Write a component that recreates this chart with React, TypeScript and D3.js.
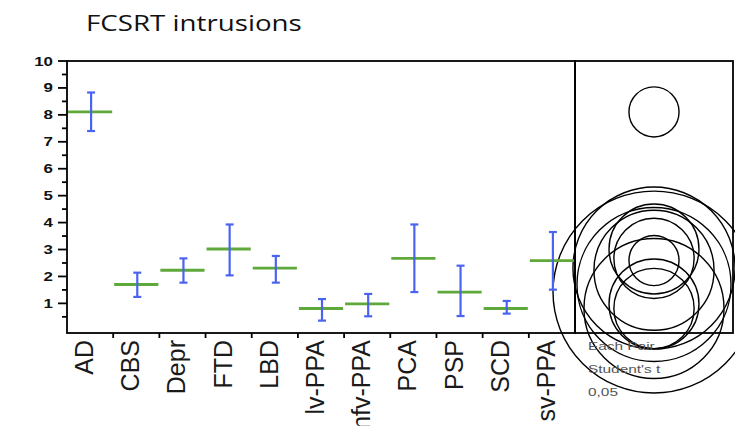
import React from "react";
import * as d3 from "d3";

const categories = ["AD", "CBS", "Depr", "FTD", "LBD", "lv-PPA", "nfv-PPA", "PCA", "PSP", "SCD", "sv-PPA"];
const means = [8.11, 1.7, 2.23, 3.02, 2.31, 0.81, 0.98, 2.67, 1.42, 0.81, 2.59];
const upper = [8.83, 2.14, 2.67, 3.93, 2.76, 1.16, 1.35, 3.93, 2.4, 1.09, 3.65];
const lower = [7.4, 1.24, 1.77, 2.04, 1.77, 0.36, 0.52, 1.42, 0.53, 0.62, 1.51];
const circleRadius = [0.93, 2.86, 2.23, 1.67, 3.01, 2.6, 1.67, 1.49, 3.75, 1.49, 0.93];
const yTicks = [1, 2, 3, 4, 5, 6, 7, 8, 9, 10];
const yMinorTicks = [0.5, 1.5, 2.5, 3.5, 4.5, 5.5, 6.5, 7.5, 8.5, 9.5];
const title = "FCSRT intrusions";
const legendLines = ["Each Pair", "Student's t", "0,05"];

export default function App() {
  const W = 735, H = 426;
  const left = 67, right = 575, top = 61, bottom = 333, panelRight = 733;
  const y = d3.scaleLinear().domain([-0.1, 10]).range([bottom, top]);
  const x = d3.scaleBand<string>().domain(categories).range([left, right]);
  const bw = x.bandwidth();
  const unit = y(0) - y(1);
  const cx = (right + panelRight) / 2;
  const green = "#5fa83a";
  const blue = "#4a64f0";
  const font = "'Liberation Sans', Arial, sans-serif";

  return (
    <svg width={W} height={H} style={{ position: "absolute", left: 0, top: 0, background: "#fff" }}>
      <text transform="translate(86,31) scale(1.26,1)" fontFamily="'Open Sans', sans-serif" fontSize={22} fill="#111">{title}</text>

      {/* comparison circles */}
      <g fill="none" stroke="#000" strokeWidth={1.4}>
        {means.map((m, i) => (
          <circle key={i} cx={cx} cy={y(m)} r={circleRadius[i] * unit} />
        ))}
      </g>

      {/* frames */}
      <rect x={left} y={top} width={right - left} height={bottom - top} fill="none" stroke="#000" strokeWidth={1.8} />
      <rect x={right} y={top} width={panelRight - right} height={bottom - top} fill="none" stroke="#000" strokeWidth={1.8} />

      {/* y axis */}
      <g stroke="#000" strokeWidth={1.8}>
        {yTicks.map((t) => (
          <line key={t} x1={left - 9} x2={left} y1={y(t)} y2={y(t)} />
        ))}
        {yMinorTicks.map((t) => (
          <line key={"m" + t} x1={left - 5} x2={left} y1={y(t)} y2={y(t)} />
        ))}
      </g>
      {yTicks.map((t) => (
        <text key={"l" + t} transform={`translate(53,${y(t) + 4.5}) scale(1.3,1)`} textAnchor="end"
          fontFamily={font} fontWeight="bold" fontSize={13} fill="#111">{t}</text>
      ))}

      {/* x ticks */}
      <g stroke="#000" strokeWidth={1.8}>
        {categories.slice(1).map((c) => (
          <line key={c} x1={x(c)!} x2={x(c)!} y1={bottom} y2={bottom + 5} />
        ))}
      </g>
      {categories.map((c) => (
        <text key={"x" + c} transform={`translate(${x(c)! + bw / 2 + 3},${bottom + 7}) rotate(-90)`} textAnchor="end"
          fontFamily={font} fontSize={25} fill="#1a1a1a">{c}</text>
      ))}

      {/* means and error bars */}
      {categories.map((c, i) => {
        const xc = x(c)! + bw / 2 + 1;
        return (
          <g key={"b" + c}>
            <line x1={x(c)! + 1} x2={x(c)! + bw - 1} y1={y(means[i])} y2={y(means[i])} stroke={green} strokeWidth={2.8} />
            <line x1={xc} x2={xc} y1={y(upper[i])} y2={y(lower[i])} stroke={blue} strokeWidth={2.2} />
            <line x1={xc - 4} x2={xc + 4} y1={y(upper[i])} y2={y(upper[i])} stroke={blue} strokeWidth={2.2} />
            <line x1={xc - 4} x2={xc + 4} y1={y(lower[i])} y2={y(lower[i])} stroke={blue} strokeWidth={2.2} />
          </g>
        );
      })}

      {/* legend text */}
      {legendLines.map((s, i) => (
        <text key={"t" + i} transform={`translate(588,${350 + i * 23}) scale(1.4,1)`}
          fontFamily={font} fontSize={11} fill="#555">{s}</text>
      ))}
    </svg>
  );
}
